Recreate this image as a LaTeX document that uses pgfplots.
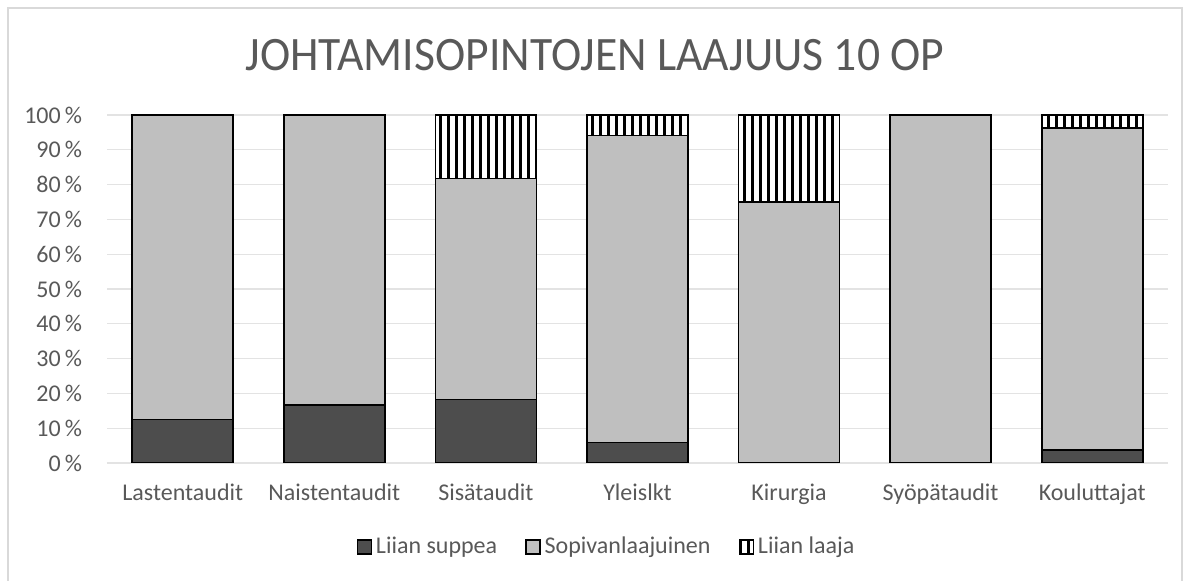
\documentclass[border=0pt]{standalone}
\usepackage{pgfplots}
\pgfplotsset{compat=1.18}
\usepackage{fontspec}
\setmainfont{Carlito}
\usetikzlibrary{patterns}
\pgfdeclarepatternformonly{vstripes}{\pgfpoint{0pt}{0pt}}{\pgfpoint{4.15pt}{200pt}}{\pgfpoint{4.15pt}{200pt}}{%
  \pgfpathrectangle{\pgfpoint{0pt}{-1pt}}{\pgfpoint{1.5pt}{202pt}}\pgfusepath{fill}}
\definecolor{txt}{HTML}{595959}
\definecolor{dark}{HTML}{4D4D4D}
\definecolor{light}{HTML}{BFBFBF}
\definecolor{gridc}{HTML}{E3E3E3}
\definecolor{framec}{HTML}{D9D9D9}
\begin{document}
\begin{tikzpicture}
\path[use as bounding box] (0,0) rectangle (595pt,290.5pt);
\draw[framec, line width=0.7pt] (4pt,0pt) -- (4pt,286.5pt) -- (591pt,286.5pt) -- (591pt,0pt);
\node[text=txt, font=\fontsize{24}{28}\selectfont] at (297.5pt,262.75pt) {\scalebox{0.95}[1]{JOHTAMISOPINTOJEN LAAJUUS 10 OP}};
\begin{axis}[
  at={(53.5pt,59pt)}, anchor=south west,
  scale only axis, width=530.5pt, height=174pt,
  ybar stacked, bar width=50.5pt,
  xmin=-0.5, xmax=6.5, ymin=0, ymax=100,
  xtick={0,...,6},
  xticklabels={Lastentaudit,Naistentaudit,Sisätaudit,Yleislkt,Kirurgia,Syöpätaudit,Kouluttajat},
  ytick={0,10,...,100},
  yticklabel={\pgfmathprintnumber{\tick}\,\%},
  /pgf/number format/assume math mode=true,
  ymajorgrids, grid style={gridc, line width=0.6pt},
  axis x line*=bottom, axis y line*=left,
  x axis line style={draw=gridc, line width=0.9pt, -},
  y axis line style={draw=none},
  major tick length=0pt,
  tick label style={text=txt, font=\fontsize{12}{14}\selectfont},
  xticklabel style={anchor=base, yshift=-19pt},
  yticklabel style={xshift=-9pt},
  ytick style={draw=none}, xtick style={draw=none},
  legend style={at={(0.4717,-0.241)}, anchor=center, draw=none, legend columns=3,
    font=\fontsize{12}{14}\selectfont, text=txt, inner sep=0pt,
    /tikz/every even column/.append style={column sep=12pt}},
  legend image code/.code={\draw[#1, line width=0.7pt] (0pt,-3.5pt) rectangle (7pt,3.5pt);},
]
\addplot[fill=dark, draw=black, line width=0.8pt] coordinates {(0,12.5) (1,16.7) (2,18.2) (3,5.9) (4,0) (5,0) (6,3.7)};
\addplot[fill=light, draw=black, line width=0.8pt] coordinates {(0,87.5) (1,83.3) (2,63.6) (3,88.2) (4,75) (5,100) (6,92.6)};
\addplot[fill=white, draw=black, line width=0.8pt, postaction={pattern=vstripes, pattern color=black}] coordinates {(0,0) (1,0) (2,18.2) (3,5.9) (4,25) (5,0) (6,3.7)};
\legend{Liian suppea, Sopivanlaajuinen, Liian laaja}
\end{axis}
\end{tikzpicture}
\end{document}
